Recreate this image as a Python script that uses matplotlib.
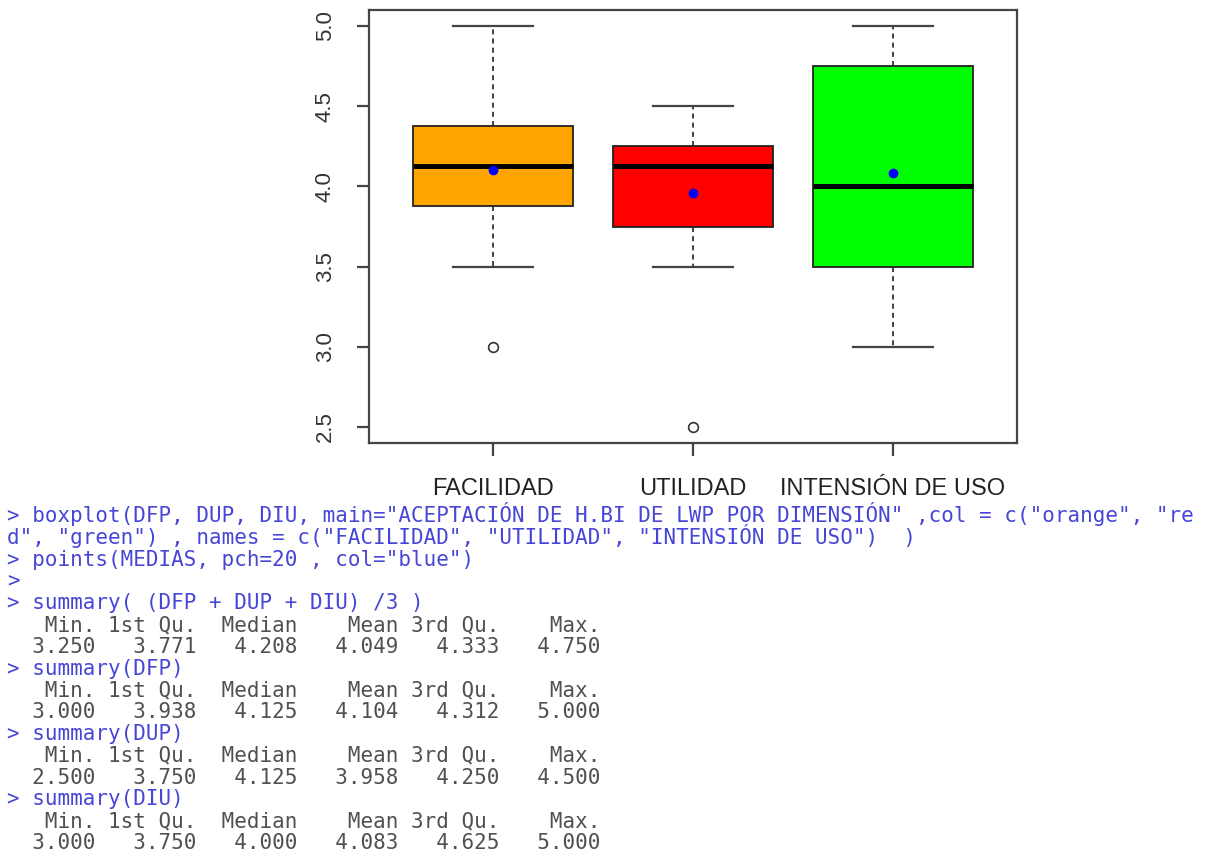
import matplotlib
matplotlib.use("Agg")
import matplotlib.pyplot as plt

# boxplot stats as R draws them (hinges, not quartiles)
CATEGORIES = ["FACILIDAD", "UTILIDAD", "INTENSIÓN DE USO"]
BOX_COLORS = ["#FFA500", "#FF0000", "#00FF00"]
WHISKER_LOW = [3.5, 3.5, 3.0]
HINGE_LOW = [3.875, 3.75, 3.5]
MEDIANS = [4.125, 4.125, 4.0]
HINGE_HIGH = [4.375, 4.25, 4.75]
WHISKER_HIGH = [5.0, 4.5, 5.0]
OUTLIERS = [[3.0], [2.5], []]
MEANS = [4.104, 3.958, 4.083]
Y_TICKS = [2.5, 3.0, 3.5, 4.0, 4.5, 5.0]

# console transcript under the plot: (is_input, text)
CONSOLE_LINES = [
    (True, '> boxplot(DFP, DUP, DIU, main="ACEPTACIÓN DE H.BI DE LWP POR DIMENSIÓN" ,col = c("orange", "re'),
    (True, 'd", "green") , names = c("FACILIDAD", "UTILIDAD", "INTENSIÓN DE USO")  )'),
    (True, '> points(MEDIAS, pch=20 , col="blue")'),
    (True, '>'),
    (True, '> summary( (DFP + DUP + DIU) /3 )'),
    (False, '   Min. 1st Qu.  Median    Mean 3rd Qu.    Max. '),
    (False, '  3.250   3.771   4.208   4.049   4.333   4.750 '),
    (True, '> summary(DFP)'),
    (False, '   Min. 1st Qu.  Median    Mean 3rd Qu.    Max. '),
    (False, '  3.000   3.938   4.125   4.104   4.312   5.000 '),
    (True, '> summary(DUP)'),
    (False, '   Min. 1st Qu.  Median    Mean 3rd Qu.    Max. '),
    (False, '  2.500   3.750   4.125   3.958   4.250   4.500 '),
    (True, '> summary(DIU)'),
    (False, '   Min. 1st Qu.  Median    Mean 3rd Qu.    Max. '),
    (False, '  3.000   3.750   4.000   4.083   4.625   5.000 '),
]

W, H = 1219, 852
INPUT_COLOR = "#4646d6"
OUTPUT_COLOR = "#505050"
FRAME_COLOR = "#444444"


def draw_boxplot(ax):
    positions = list(range(1, len(CATEGORIES) + 1))
    stats = []
    for i, name in enumerate(CATEGORIES):
        stats.append(dict(label=name, med=MEDIANS[i], q1=HINGE_LOW[i], q3=HINGE_HIGH[i],
                          whislo=WHISKER_LOW[i], whishi=WHISKER_HIGH[i], fliers=OUTLIERS[i]))
    parts = ax.bxp(stats, positions=positions, widths=0.8, capwidths=0.4,
                   patch_artist=True, showfliers=True,
                   boxprops=dict(edgecolor="#222222", linewidth=1.3),
                   medianprops=dict(color="black", linewidth=3.6, solid_capstyle="butt"),
                   whiskerprops=dict(color="#222222", linewidth=1.2, linestyle=(0, (3, 2.5))),
                   capprops=dict(color=FRAME_COLOR, linewidth=1.6),
                   flierprops=dict(marker="o", markerfacecolor="none", markeredgecolor="#333333",
                                   markersize=7, markeredgewidth=1.2))
    for patch, col in zip(parts["boxes"], BOX_COLORS):
        patch.set_facecolor(col)
    # points(MEDIAS, pch=20, col="blue")
    ax.plot(positions, MEANS, "o", color="#0000FF", markersize=6, zorder=5)

    ax.set_xlim(0.38, 3.62)
    ax.set_ylim(2.4, 5.1)
    ax.set_xticks(positions)
    ax.set_xticklabels(CATEGORIES, fontsize=17, color="#222222", family="Liberation Sans")
    ax.set_yticks(Y_TICKS)
    ax.set_yticklabels([f"{v:.1f}" for v in Y_TICKS], fontsize=16, color="#333333",
                       family="Liberation Sans")
    for lbl in ax.get_yticklabels():
        lbl.set_rotation(90)
        lbl.set_va("center")
    ax.tick_params(axis="x", length=9, width=1.6, color=FRAME_COLOR, pad=16)
    ax.tick_params(axis="y", length=9, width=1.6, color=FRAME_COLOR, pad=15)
    for sp in ax.spines.values():
        sp.set_color(FRAME_COLOR)
        sp.set_linewidth(1.6)


def draw_console(fig):
    for i, (is_input, line) in enumerate(CONSOLE_LINES):
        y = 1 - (522 + i * 21.8) / H
        color = INPUT_COLOR if is_input else OUTPUT_COLOR
        fig.text(7 / W, y, line, color=color, fontsize=15, family="DejaVu Sans Mono",
                 va="baseline", ha="left")


fig = plt.figure(figsize=(W / 100, H / 100), dpi=100)
ax = fig.add_axes([369 / W, 1 - 443 / H, (1017 - 369) / W, (443 - 10) / H])
draw_boxplot(ax)
draw_console(fig)
fig.savefig("out.png", dpi=100, facecolor="white")
